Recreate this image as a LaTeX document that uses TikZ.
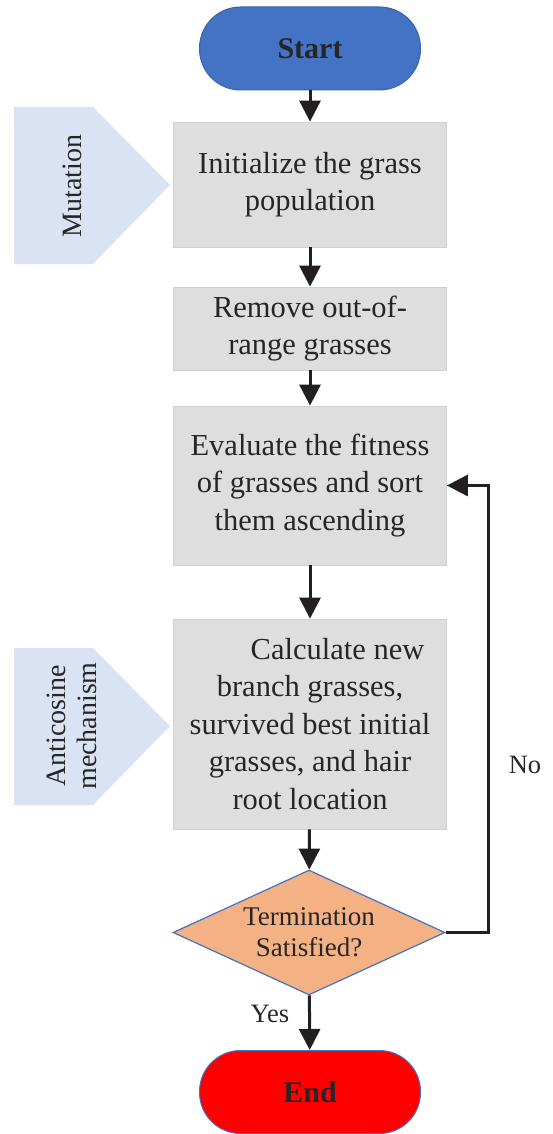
\documentclass[tikz,border=0pt]{standalone}
\usepackage{fontspec}
\setmainfont{Liberation Serif}
\usetikzlibrary{arrows.meta,shapes.geometric}
\definecolor{startblue}{HTML}{4472C4}
\definecolor{startedge}{HTML}{3B64AF}
\definecolor{boxgray}{HTML}{DEDEDE}
\definecolor{boxedge}{HTML}{D0D0D0}
\definecolor{pentblue}{HTML}{DAE3F3}
\definecolor{diafill}{HTML}{F4B183}
\definecolor{arrowcol}{HTML}{231F20}
\definecolor{txt}{HTML}{262626}
\tikzset{
  terminal/.style={rectangle, rounded corners=41pt, minimum width=221pt, minimum height=83pt, draw=startedge, line width=1pt, inner sep=0pt, font=\fontsize{30}{34}\selectfont\bfseries, text=txt},
  procbox/.style={rectangle, fill=boxgray, draw=boxedge, line width=0.8pt, minimum width=273pt, inner sep=0pt, align=center, font=\fontsize{30.5}{37.5}\selectfont, text=txt},
  decide/.style={diamond, fill=diafill, draw=startblue, line width=1.2pt, minimum width=272pt, minimum height=125pt, inner sep=0pt},
  pent/.style={fill=pentblue},
  penttext/.style={rotate=90, align=center, font=\fontsize{28}{31}\selectfont, text=txt},
  plain/.style={font=\fontsize{26.5}{30}\selectfont, text=txt, inner sep=0pt},
  arr/.style={draw=arrowcol, line width=3pt, -{Triangle[length=21pt,width=21pt]}},
}
\begin{document}
\begin{tikzpicture}[x=1pt,y=-1pt]
\useasboundingbox (0,0) rectangle (552,1134);
% side pentagons
\fill[pent] (14,107) -- (93,107) -- (170,185) -- (93,264) -- (14,264) -- cycle;
\node[penttext] (mut) at (72,186) {Mutation};
\fill[pent] (14,648) -- (93,648) -- (170,726) -- (93,805) -- (14,805) -- cycle;
\node[penttext] (anti) at (72,726) {Anticosine\\mechanism};
% main flow
\node[terminal, fill=startblue] (start) at (310,48.5) {Start};
\node[procbox, minimum height=125pt] (b1) at (310,184.5) {Initialize the grass\\population};
\node[procbox, minimum height=83pt] (b2) at (310,328.5) {Remove out-of-\\range grasses};
\node[procbox, minimum height=159pt] (b3) at (310,485.5) {Evaluate the fitness\\of grasses and sort\\them ascending};
\node[procbox, minimum height=210pt] (b4) at (310,724) {\hspace*{55pt}Calculate new\\branch grasses,\\survived best initial\\grasses, and hair\\root location};
\node[decide] (d) at (309,932.5) {};
\node[font=\fontsize{27}{31}\selectfont, text=txt, align=center, inner sep=0pt] (dt) at (d.center) {Termination\\Satisfied?};
\node[terminal, fill=red, draw=startblue] (end) at (310,1092) {End};
% connectors
\draw[arr] (start) -- (b1);
\draw[arr] (b1) -- (b2);
\draw[arr] (b2) -- (b3);
\draw[arr] (b3) -- (b4);
\draw[arr] (b4) -- (d);
\draw[arr] (d) -- (end);
\coordinate (loop) at (488,932.5);
\draw[arr] (d.east) -- (loop) |- (b3.east);
% labels
\node[plain] (no) at (525,765) {No};
\node[plain] (yes) at (270,1014) {Yes};
\end{tikzpicture}
\end{document}
